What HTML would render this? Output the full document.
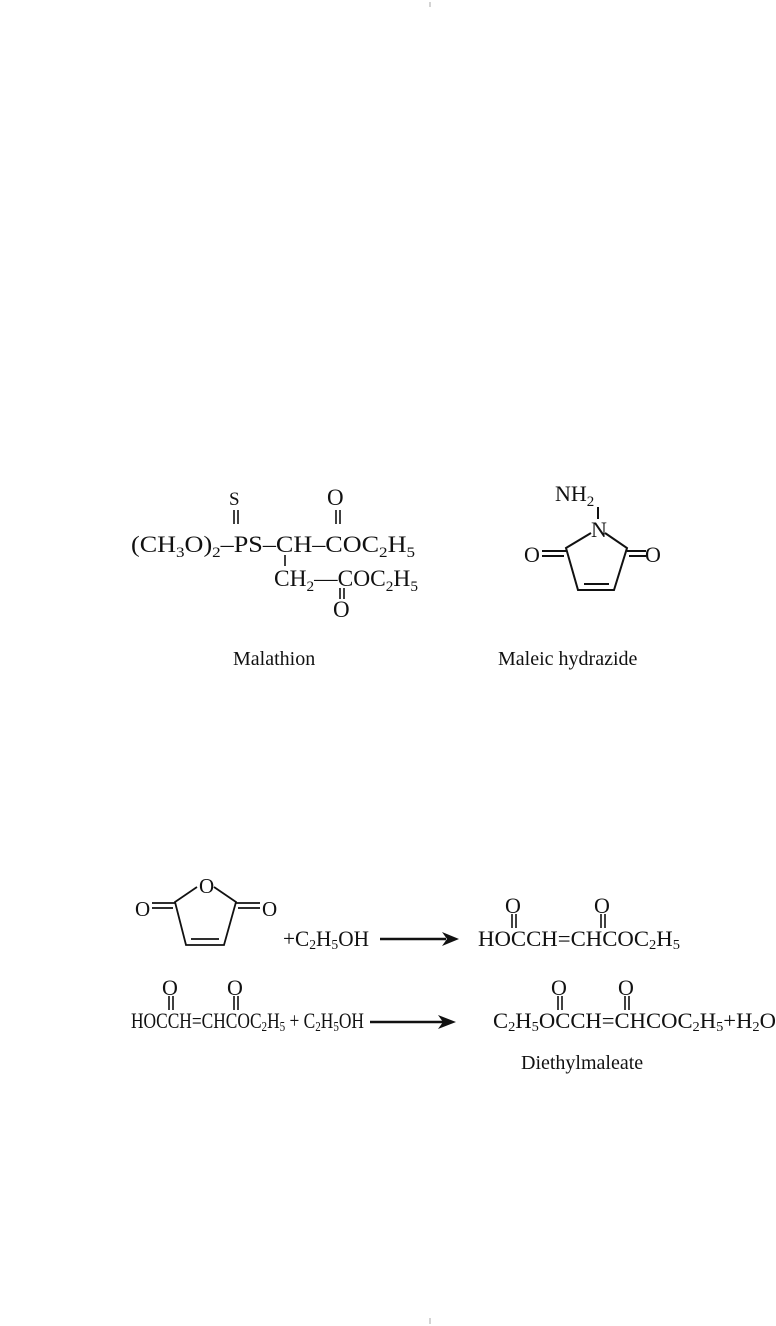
<!DOCTYPE html>
<html><head><meta charset="utf-8"><style>
html,body{margin:0;padding:0;background:#fff}
svg{display:block}
text{font-family:"Liberation Serif",serif;fill:#111}
</style></head><body>
<svg width="776" height="1326" viewBox="0 0 776 1326" xmlns="http://www.w3.org/2000/svg">
<g stroke="#aaa" stroke-width="1"><line x1="430" y1="2" x2="430" y2="7"/><line x1="430" y1="1318" x2="430" y2="1324"/></g>
<!-- Malathion -->
<g font-size="23">
<text x="229" y="505" font-size="19">S</text>
<text x="327" y="505">O</text>
<text x="131" y="552" textLength="284" lengthAdjust="spacingAndGlyphs">(CH<tspan font-size="15" dy="5">3</tspan><tspan dy="-5">O)</tspan><tspan font-size="15" dy="5">2</tspan><tspan dy="-5">–PS–CH–COC</tspan><tspan font-size="15" dy="5">2</tspan><tspan dy="-5">H</tspan><tspan font-size="15" dy="5">5</tspan></text>
<text x="274" y="586" textLength="144" lengthAdjust="spacingAndGlyphs">CH<tspan font-size="15" dy="5">2</tspan><tspan dy="-5">—COC</tspan><tspan font-size="15" dy="5">2</tspan><tspan dy="-5">H</tspan><tspan font-size="15" dy="5">5</tspan></text>
<text x="333" y="617">O</text>
<text x="233" y="665" font-size="20">Malathion</text>
<text x="498" y="665" font-size="20">Maleic hydrazide</text>
</g>
<g stroke="#111" stroke-width="1.6">
<line x1="234" y1="510" x2="234" y2="524"/><line x1="238" y1="510" x2="238" y2="524"/>
<line x1="336" y1="510" x2="336" y2="524"/><line x1="340" y1="510" x2="340" y2="524"/>
<line x1="285" y1="555" x2="285" y2="566"/>
<line x1="340" y1="588" x2="340" y2="599"/><line x1="344" y1="588" x2="344" y2="599"/>
</g>
<!-- Maleic hydrazide -->
<g font-size="22">
<text x="555" y="501">NH<tspan font-size="15" dy="5">2</tspan></text>
<text x="591" y="537">N</text>
<text x="524" y="562">O</text>
<text x="645" y="562">O</text>
</g>
<g stroke="#111" stroke-width="2" fill="none">
<line x1="598" y1="507" x2="598" y2="519"/>
<polyline points="591,533 566,548 578,590 614,590 627,548 605,533"/>
<line x1="584" y1="584" x2="609" y2="584"/>
<line x1="542" y1="551" x2="566" y2="551"/><line x1="542" y1="556" x2="564" y2="556"/>
<line x1="627" y1="551" x2="646" y2="551"/><line x1="629" y1="556" x2="646" y2="556"/>
</g>
<!-- Maleic anhydride -->
<g font-size="21">
<text x="135" y="916">O</text>
<text x="199" y="893">O</text>
<text x="262" y="916">O</text>
</g>
<g stroke="#111" stroke-width="1.8" fill="none">
<polyline points="197,887 175,902 186,945 224,945 236,902 214,887"/>
<line x1="191" y1="939" x2="219" y2="939"/>
<line x1="152" y1="903" x2="175" y2="903"/><line x1="152" y1="908" x2="173" y2="908"/>
<line x1="236" y1="903" x2="260" y2="903"/><line x1="238" y1="908" x2="260" y2="908"/>
</g>
<g font-size="22">
<text x="283" y="946" textLength="86" lengthAdjust="spacingAndGlyphs">+C<tspan font-size="14" dy="3">2</tspan><tspan dy="-3">H</tspan><tspan font-size="14" dy="3">5</tspan><tspan dy="-3">OH</tspan></text>
<text x="478" y="946" textLength="202" lengthAdjust="spacingAndGlyphs">HOCCH=CHCOC<tspan font-size="14" dy="3">2</tspan><tspan dy="-3">H</tspan><tspan font-size="14" dy="3">5</tspan></text>
<text x="505" y="913">O</text>
<text x="594" y="913">O</text>
<text x="131" y="1028" textLength="233" lengthAdjust="spacingAndGlyphs">HOCCH=CHCOC<tspan font-size="14" dy="3">2</tspan><tspan dy="-3">H</tspan><tspan font-size="14" dy="3">5</tspan><tspan dy="-3"> + C</tspan><tspan font-size="14" dy="3">2</tspan><tspan dy="-3">H</tspan><tspan font-size="14" dy="3">5</tspan><tspan dy="-3">OH</tspan></text>
<text x="162" y="995">O</text>
<text x="227" y="995">O</text>
<text x="493" y="1028" textLength="283" lengthAdjust="spacingAndGlyphs">C<tspan font-size="14" dy="3">2</tspan><tspan dy="-3">H</tspan><tspan font-size="14" dy="3">5</tspan><tspan dy="-3">OCCH=CHCOC</tspan><tspan font-size="14" dy="3">2</tspan><tspan dy="-3">H</tspan><tspan font-size="14" dy="3">5</tspan><tspan dy="-3">+H</tspan><tspan font-size="14" dy="3">2</tspan><tspan dy="-3">O</tspan></text>
<text x="551" y="995">O</text>
<text x="618" y="995">O</text>
<text x="521" y="1069" font-size="20">Diethylmaleate</text>
</g>
<g stroke="#111" stroke-width="1.6">
<line x1="512" y1="914" x2="512" y2="928"/><line x1="516" y1="914" x2="516" y2="928"/>
<line x1="601" y1="914" x2="601" y2="928"/><line x1="605" y1="914" x2="605" y2="928"/>
<line x1="169" y1="996" x2="169" y2="1010"/><line x1="173" y1="996" x2="173" y2="1010"/>
<line x1="234" y1="996" x2="234" y2="1010"/><line x1="238" y1="996" x2="238" y2="1010"/>
<line x1="558" y1="996" x2="558" y2="1010"/><line x1="562" y1="996" x2="562" y2="1010"/>
<line x1="625" y1="996" x2="625" y2="1010"/><line x1="629" y1="996" x2="629" y2="1010"/>
<line x1="380" y1="939" x2="446" y2="939" stroke-width="2.5"/>
<line x1="370" y1="1022" x2="444" y2="1022" stroke-width="2.5"/>
</g>
<polygon points="442,932 459,939 442,946 447,939" fill="#111"/>
<polygon points="438,1015 456,1022 438,1029 443,1022" fill="#111"/>
</svg>
</body></html>
